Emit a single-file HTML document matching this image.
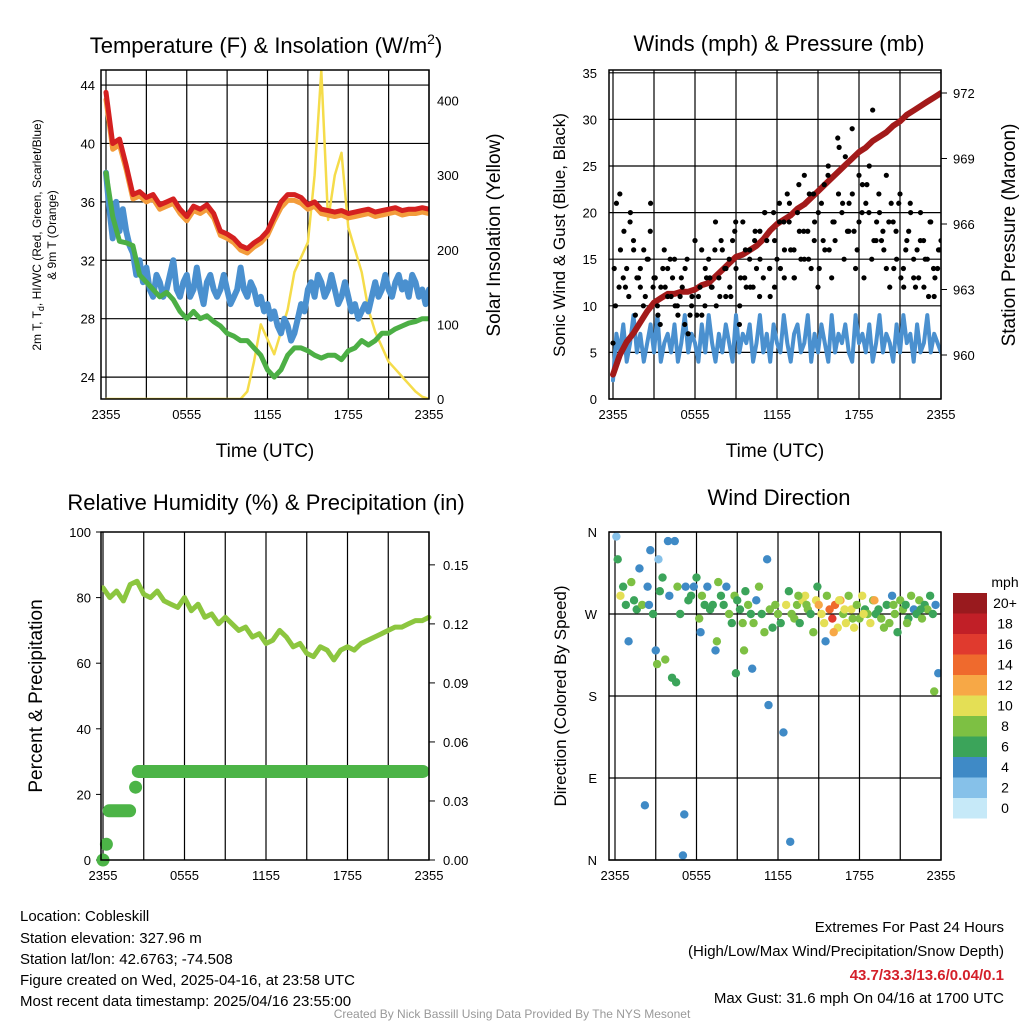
<!DOCTYPE html>
<html><head><meta charset="utf-8"><style>
body{margin:0;background:#fff;}
svg{display:block;font-family:"Liberation Sans",sans-serif;}
</style></head><body>
<svg id="svg" width="1024" height="1024" viewBox="0 0 1024 1024" xmlns="http://www.w3.org/2000/svg">
<defs>
<clipPath id="c1"><rect x="101" y="70" width="328" height="329"/></clipPath>
<clipPath id="c2"><rect x="609" y="70" width="332" height="329"/></clipPath>
<clipPath id="c4"><rect x="609" y="532" width="332" height="328"/></clipPath>
</defs>
<rect width="1024" height="1024" fill="#fff"/>
<g id="g1"></g>
<g id="g2"></g>
<g id="g3"></g>
<g id="g4"></g>
<text x="266" y="53" font-size="22" text-anchor="middle">Temperature (F) &amp; Insolation (W/m<tspan dy="-9" font-size="14">2</tspan><tspan dy="9">)</tspan></text>
<text x="779" y="51" font-size="22" text-anchor="middle">Winds (mph) &amp; Pressure (mb)</text>
<text x="266" y="510" font-size="22" text-anchor="middle">Relative Humidity (%) &amp; Precipitation (in)</text>
<text x="779" y="505" font-size="22" text-anchor="middle">Wind Direction</text>
<g font-size="15">
<text x="20" y="921">Location: Cobleskill</text>
<text x="20" y="943">Station elevation: 327.96 m</text>
<text x="20" y="964">Station lat/lon: 42.6763; -74.508</text>
<text x="20" y="985">Figure created on Wed, 2025-04-16, at 23:58 UTC</text>
<text x="20" y="1006">Most recent data timestamp: 2025/04/16 23:55:00</text>
</g>
<g font-size="15" text-anchor="end">
<text x="1004" y="932">Extremes For Past 24 Hours</text>
<text x="1004" y="956">(High/Low/Max Wind/Precipitation/Snow Depth)</text>
<text x="1004" y="980" fill="#d4202a" font-weight="bold">43.7/33.3/13.6/0.04/0.1</text>
<text x="1004" y="1003">Max Gust: 31.6 mph On 04/16 at 1700 UTC</text>
</g>
<text x="512" y="1018" font-size="12" fill="#999" text-anchor="middle">Created By Nick Bassill Using Data Provided By The NYS Mesonet</text>
</svg>
<script>
const xTicks=["2355","0555","1155","1755","2355"];
const tempRed=[43.5,40,40.3,38.5,36.5,36.7,36.3,36.5,35.8,36.0,36.2,35.5,35.0,35.7,35.5,35.8,35.2,34.0,33.8,33.5,33.0,32.8,33.2,33.5,34.0,35.0,36.0,36.5,36.5,36.3,35.8,36.0,35.5,35.4,35.3,35.4,35.2,35.3,35.4,35.5,35.3,35.4,35.5,35.6,35.4,35.5,35.5,35.6,35.5];
const tempOrange=[43.0,39.6,39.9,38.2,36.2,36.4,36.0,36.2,35.5,35.7,35.9,35.2,34.7,35.4,35.2,35.5,34.9,33.7,33.5,33.2,32.7,32.5,32.9,33.2,33.7,34.7,35.6,36.1,36.1,35.9,35.5,35.7,35.2,35.1,35.0,35.1,34.9,35.0,35.1,35.2,35.0,35.1,35.2,35.3,35.1,35.2,35.2,35.3,35.2];
const tempGreen=[38,35,33.3,33.2,33,31,30.5,30,29.5,29.8,29.3,28.5,28.0,28.5,28.0,28.2,27.8,27.5,27.0,26.8,26.5,26.5,26.0,25.5,24.5,24.0,24.5,25.5,26.0,26.0,25.8,25.5,25.3,25.5,25.5,25.2,25.8,26.0,26.5,26.2,26.5,27.0,27.0,27.3,27.5,27.7,27.8,28.0,28.0];
const tempBlue=[38,35.5,33.5,36,34,35.5,34,33,32.5,31,32,30.5,31.5,30,29.5,31,30.5,29.5,30,31,32,30,29.5,30.5,31,29.5,30,31.5,30,29,30.5,31,30,29.5,30,31,30,29,29.5,30,31.5,30,29.5,30.5,30,29,29.5,28.5,29,28,28.5,27.5,27,28,27.5,26.5,27,28,29,28.5,30,30.5,29.5,31,30.5,29.5,30,31,30,29,29.5,30.5,29.5,28.5,29,28,28.5,29,28.5,29.5,30.5,29.5,30,31,30,29.5,30.5,31,30,30.5,29.5,31,30.5,29.5,30,29,30];
const solar=[0,0,0,0,0,0,0,0,0,0,0,0,0,0,0,0,0,0,0,0,0,10,50,100,80,60,90,120,170,190,210,300,440,240,300,330,230,200,170,120,90,70,50,40,30,20,10,3,0];
const pressure=[959.1,960.0,960.6,961.0,961.5,962.0,962.4,962.6,962.8,962.8,962.9,962.9,963.0,963.2,963.3,963.6,963.9,964.2,964.5,964.6,964.8,965.0,965.3,965.7,966.0,966.2,966.4,966.7,966.9,967.2,967.5,967.8,968.1,968.4,968.7,969.0,969.3,969.5,969.8,970.0,970.2,970.5,970.7,971.0,971.2,971.4,971.6,971.8,972.0];
const wind=[2,7,5,8,4,6,9,5,7,4,6,8,5,9,4,6,7,5,8,4,6,9,5,7,6,4,8,5,9,6,4,7,5,8,6,4,9,5,7,6,8,4,6,9,5,7,4,8,6,5,9,6,4,7,8,5,6,9,4,7,5,8,6,4,9,5,7,6,8,5,4,9,6,7,5,8,4,6,9,5,7,6,4,8,5,9,6,7,4,8,5,6,9,5,7,6,5];
const gust=[6,21,22,13,14,19,17,13,12,16,15,21,13,10,12,16,14,11,15,9,13,8,7,10,17,11,9,14,15,12,19,13,16,11,15,17,14,8,19,12,16,12,14,18,13,17,11,20,15,14,19,22,16,13,20,15,24,18,14,19,12,21,16,25,13,17,22,20,26,18,29,14,19,23,21,25,31,17,20,18,24,12,19,15,22,14,17,21,13,16,20,12,15,19,11,14,17];
const gust2=[10,16,12,20,9,14,11,18,13,8,12,15,10,11,14,9,17,12,10,13,16,11,14,12,18,10,13,15,17,11,20,14,12,19,16,21,13,18,15,22,17,14,23,16,19,27,15,21,18,24,13,20,17,22,16,19,14,21,12,18,15,13,17,11,14,16];
const gust3=[14,12,18,11,16,13,10,15,12,9,14,11,13,10,12,15,11,9,16,13,12,10,17,14,11,19,13,16,12,18,15,20,14,17,21,13,19,16,23,18,15,22,20,17,24,19,28,21,18,22,16,20,23,15,19,17,14,21,18,13,16,20,12,17,15,19,13,16];
const rh=[83,80,82,79,84,85,81,80,82,79,78,77,80,76,78,74,75,72,74,72,70,71,68,69,66,67,70,68,65,66,63,62,65,64,61,64,65,64,66,67,68,69,70,71,71,72,73,73,74];
const precipHours=[0,0.25,0.45,2.4,2.6,24];
const precipVals=[0,0.008,0.025,0.037,0.045,0.045];
const dirHour=[0.1,0.2,0.4,0.6,0.8,1,1.2,1.4,1.6,1.8,2,2.2,2.4,2.6,2.8,3,3.2,3.3,3.5,3.7,3.9,4,4.2,4.4,4.6,4.8,5,5.2,5.4,5.6,5.8,6,6.2,6.4,6.6,6.8,7,7.2,7.4,7.6,7.8,8,8.2,8.4,8.6,8.8,9,9.2,9.4,9.6,9.8,10,10.2,10.4,10.6,10.8,11,11.2,11.4,11.6,11.8,12,12.2,12.4,12.6,12.8,13,13.2,13.4,13.6,13.8,14,14.2,14.4,14.6,14.8,15,15.2,15.4,15.6,15.8,16,16.2,16.4,16.6,16.8,17,17.2,17.4,17.6,17.8,18,18.2,18.4,18.6,18.8,19,19.2,19.4,19.6,19.8,20,20.2,20.4,20.6,20.8,21,21.2,21.4,21.6,21.8,22,22.2,22.4,22.6,22.8,23,23.2,23.4,23.6,23.8,3.1,4.5,5.1,6.3,7.5,8.9,9.5,10.1,11.3,12.9,14.1,15.5,16.1,16.9,17.5,18.3,19.1,20.5,21.5,22.5,23.5,2.5,13.5,14.9,16.5];
const dirDeg=[355,330,290,300,280,240,305,285,275,320,280,60,300,340,270,230,330,295,310,220,350,290,200,350,300,270,5,300,285,290,300,310,265,290,280,300,275,280,230,305,290,280,300,270,260,290,285,275,260,295,280,270,260,285,300,270,250,330,275,255,280,270,260,140,280,295,270,265,280,260,285,290,275,270,250,285,280,270,260,290,275,265,280,255,285,270,260,290,275,255,280,265,290,275,270,260,285,270,275,265,255,280,260,290,270,250,285,275,280,265,290,275,270,285,265,280,275,290,270,280,205,215,195,50,250,240,205,230,210,170,20,280,240,250,275,265,270,285,280,260,275,185,280,290,300,285,275];
const dirSpd=[1,6,9,5,6,4,7,6,5,4,8,4,3,4,6,3,2,5,6,7,4,4,5,3,7,6,4,4,5,6,3,6,7,8,5,4,6,6,3,7,5,6,4,8,6,7,6,5,7,6,8,6,7,4,8,6,7,4,7,6,7,8,6,3,9,6,8,7,8,6,9,10,7,6,8,9,12,10,9,8,14,15,13,10,11,8,9,7,10,9,8,7,10,6,8,9,7,5,6,8,7,6,7,4,7,6,8,7,6,5,7,4,6,7,8,5,7,6,6,4,3,7,5,4,3,8,6,7,4,3,4,7,4,12,10,8,9,11,7,8,6,7,4,7,6,9,10];
const cbColors=["#c6e9f8","#86c1e9","#3f8ac6","#3ba45a","#7dc043","#e4df55","#f7a846","#ef6a2d","#e03a2e","#c11f27","#991a1e"];
const cbLabels=["0","2","4","6","8","10","12","14","16","18","20+"];

const NS="http://www.w3.org/2000/svg";
function mk(p,t,a){const e=document.createElementNS(NS,t);for(const k in a)e.setAttribute(k,a[k]);p.appendChild(e);return e;}
function lin(d0,d1,r0,r1){return v=>r0+(v-d0)/(d1-d0)*(r1-r0);}
function axisFrame(g,L,T,R,B,xs,label){
  for(let i=0;i<=8;i++){const x=xs(i/8);const l=mk(g,'line',{x1:x,x2:x,y1:T,y2:B,stroke:'#000','stroke-width':1.2});
  
  }
  xTicks.forEach((t,i)=>{const x=xs(i/4);const e=mk(g,'text',{x:x,y:B+20,'font-size':13,'text-anchor':'middle'});e.textContent=t;
  
  });
  if(label){const e=mk(g,'text',{x:(L+R)/2,y:B+58,'font-size':19,'text-anchor':'middle'});e.textContent=label;
  
  }
}
function border(g,L,T,R,B){const r=mk(g,'rect',{x:L,y:T,width:R-L,height:B-T,fill:'none',stroke:'#000','stroke-width':1.5});

}
function yTicks(g,vals,ys,x,anchor,fmt,grid,L,R){vals.forEach(v=>{const y=ys(v);
 if(grid){const l=mk(g,'line',{x1:L,x2:R,y1:y,y2:y,stroke:'#000','stroke-width':1.2});
 
 }
 const e=mk(g,'text',{x:x,y:y+5,'font-size':13,'text-anchor':anchor});e.textContent=fmt(v);
 
 });}
function path(g,arr,xs,ys,attrs,name){const n=arr.length;let d='';arr.forEach((v,i)=>{d+=(i?'L':'M')+xs(i/(n-1)).toFixed(1)+','+ys(v).toFixed(1);});
 const p=mk(g,'path',Object.assign({d:d,fill:'none','stroke-linejoin':'round','stroke-linecap':'round'},attrs));
 
 return p;}
function vtitle(g,x,y,txt,size,name){const e=mk(g,'text',{x:0,y:0,'font-size':size,'text-anchor':'middle',transform:`translate(${x},${y}) rotate(-90)`});e.textContent=txt;
 
 return e;}

// Panel 1
{const g=document.getElementById('g1');const L=101,T=70,R=429,B=399;
 const xs=lin(0,1,106,429),yl=lin(22.5,45.03,B,T),yr=lin(0,441,B,T);
 axisFrame(g,L,T,R,B,xs,'Time (UTC)');
 yTicks(g,[24,28,32,36,40,44],yl,L-6,'end',v=>v,true,L,R);
 yTicks(g,[0,100,200,300,400],yr,R+8,'start',v=>v,false);
 const c=mk(g,'g',{'clip-path':'url(#c1)'});
 
 
 path(c,solar,xs,yr,{stroke:'#f5dc4a','stroke-width':2.5},'solar-insolation-line');
 path(c,tempBlue,xs,yl,{stroke:'#4a90cf','stroke-width':6},'heat-index-windchill-line');
 path(c,tempGreen,xs,yl,{stroke:'#4caf45','stroke-width':5},'dewpoint-line');
 path(c,tempOrange,xs,yl,{stroke:'#f39c3b','stroke-width':5},'temp-9m-line');
 path(c,tempRed,xs,yl,{stroke:'#d42020','stroke-width':5},'temp-2m-line');
 border(g,L,T,R,B);
 const t=mk(g,'text',{x:0,y:0,'font-size':12,'text-anchor':'middle',transform:'translate(41,235) rotate(-90)'});
 t.innerHTML='2m T, T<tspan dy="3" font-size="9">d</tspan><tspan dy="-3">, HI/WC (Red, Green, Scarlet/Blue)</tspan>';
 
 
 const t2=mk(g,'text',{x:0,y:0,'font-size':12,'text-anchor':'middle',transform:'translate(56,235) rotate(-90)'});t2.textContent='& 9m T (Orange)';
 
 
 vtitle(g,500,235,'Solar Insolation (Yellow)',19,'right-axis-title');}

// Panel 2
{const g=document.getElementById('g2');const L=609,T=70,R=941,B=399;
 const xs=lin(0,1,613,941),yl=lin(0,35.3,B,T),yr=lin(960,972,355,93);
 axisFrame(g,L,T,R,B,xs,'Time (UTC)');
 yTicks(g,[0,5,10,15,20,25,30,35],yl,L-12,'end',v=>v,true,L,R);
 yTicks(g,[960,963,966,969,972],yr,R+12,'start',v=>v,false);
 [960,963,966,969,972].forEach(v=>{const l=mk(g,'line',{x1:R,x2:R+6,y1:yr(v),y2:yr(v),stroke:'#000'});
 
 });
 const c=mk(g,'g',{'clip-path':'url(#c2)'});
 
 
 path(c,wind,xs,yl,{stroke:'#4a90cf','stroke-width':4},'sonic-wind-line');
 path(c,pressure,xs,yr,{stroke:'#a31a1a','stroke-width':6},'pressure-line');
 [gust,gust2,gust3].forEach((arr,k)=>{const off=[0,0.5,0.25][k];arr.forEach((v,i)=>{const x=xs((i+off)/(arr.length-1+off*2));const d=mk(c,'circle',{cx:x,cy:yl(v),r:2.6,fill:'#000'});
 
 });});
 border(g,L,T,R,B);
 vtitle(g,565,235,'Sonic Wind & Gust (Blue, Black)',17,'left-axis-title');
 vtitle(g,1015,235,'Station Pressure (Maroon)',19,'right-axis-title');}

// Panel 3
{const g=document.getElementById('g3');const L=101,T=532,R=429,B=860;
 const xs=lin(0,1,103,429),yl=lin(0,100,B,T),yr=lin(0,0.1667,B,T);
 axisFrame(g,L,T,R,B,xs,null);
 yTicks(g,[0,20,40,60,80,100],yl,L-10,'end',v=>v,false);
 yTicks(g,[0,0.03,0.06,0.09,0.12,0.15],yr,R+14,'start',v=>v.toFixed(2),false);
 [0,20,40,60,80,100].forEach(v=>{const l=mk(g,'line',{x1:L-5,x2:L,y1:yl(v),y2:yl(v),stroke:'#000'});
 
 });
 [0,0.03,0.06,0.09,0.12,0.15].forEach(v=>{const l=mk(g,'line',{x1:R,x2:R+6,y1:yr(v),y2:yr(v),stroke:'#000'});
 
 });
 path(g,rh,xs,yl,{stroke:'#8cc63f','stroke-width':5},'relative-humidity-line');
 precipVals.forEach((v,i)=>{if(i===precipVals.length-1)return;const x1=xs(precipHours[i]/24),x2=xs(precipHours[i+1]/24)-6;
 const l=mk(g,'line',{x1:x1,x2:Math.max(x1,x2),y1:yr(v),y2:yr(v),stroke:'#4cb447','stroke-width':13,'stroke-linecap':'round'});
 
 });
 border(g,L,T,R,B);
 vtitle(g,42,696,'Percent & Precipitation',19,'left-axis-title');}

// Panel 4
{const g=document.getElementById('g4');const L=609,T=532,R=941,B=860;
 const xs=lin(0,1,615,941),ys=lin(0,360,B,T);
 axisFrame(g,L,T,R,B,xs,null);
 [[360,'N'],[270,'W'],[180,'S'],[90,'E'],[0,'N']].forEach(([v,t])=>{const y=ys(v);
 const l=mk(g,'line',{x1:L,x2:R,y1:y,y2:y,stroke:'#000','stroke-width':1.2});
 
 
 const e=mk(g,'text',{x:L-12,y:y+5,'font-size':13,'text-anchor':'end'});e.textContent=t;
 
 });
 const c=mk(g,'g',{'clip-path':'url(#c4)'});
 
 
 dirHour.forEach((h,i)=>{if(dirDeg[i]===undefined||dirSpd[i]===undefined)return;const s=dirSpd[i];const bin=Math.min(10,Math.floor((s+1)/2));
 const d=mk(c,'circle',{cx:xs(h/24),cy:ys(dirDeg[i]),r:4.2,fill:cbColors[bin]});
 
 });
 border(g,L,T,R,B);
 vtitle(g,566,696,'Direction (Colored By Speed)',17,'left-axis-title');
 const u=mk(g,'text',{x:1005,y:587,'font-size':14,'text-anchor':'middle'});u.textContent='mph';
 
 
 cbColors.forEach((col,i)=>{const y=798-i*20.5;const r=mk(g,'rect',{x:953,y:y,width:34,height:20.5,fill:col});
 
 
 const t=mk(g,'text',{x:1005,y:y+15,'font-size':14,'text-anchor':'middle'});t.textContent=cbLabels[i];
 
 });}
</script>
</body></html>
